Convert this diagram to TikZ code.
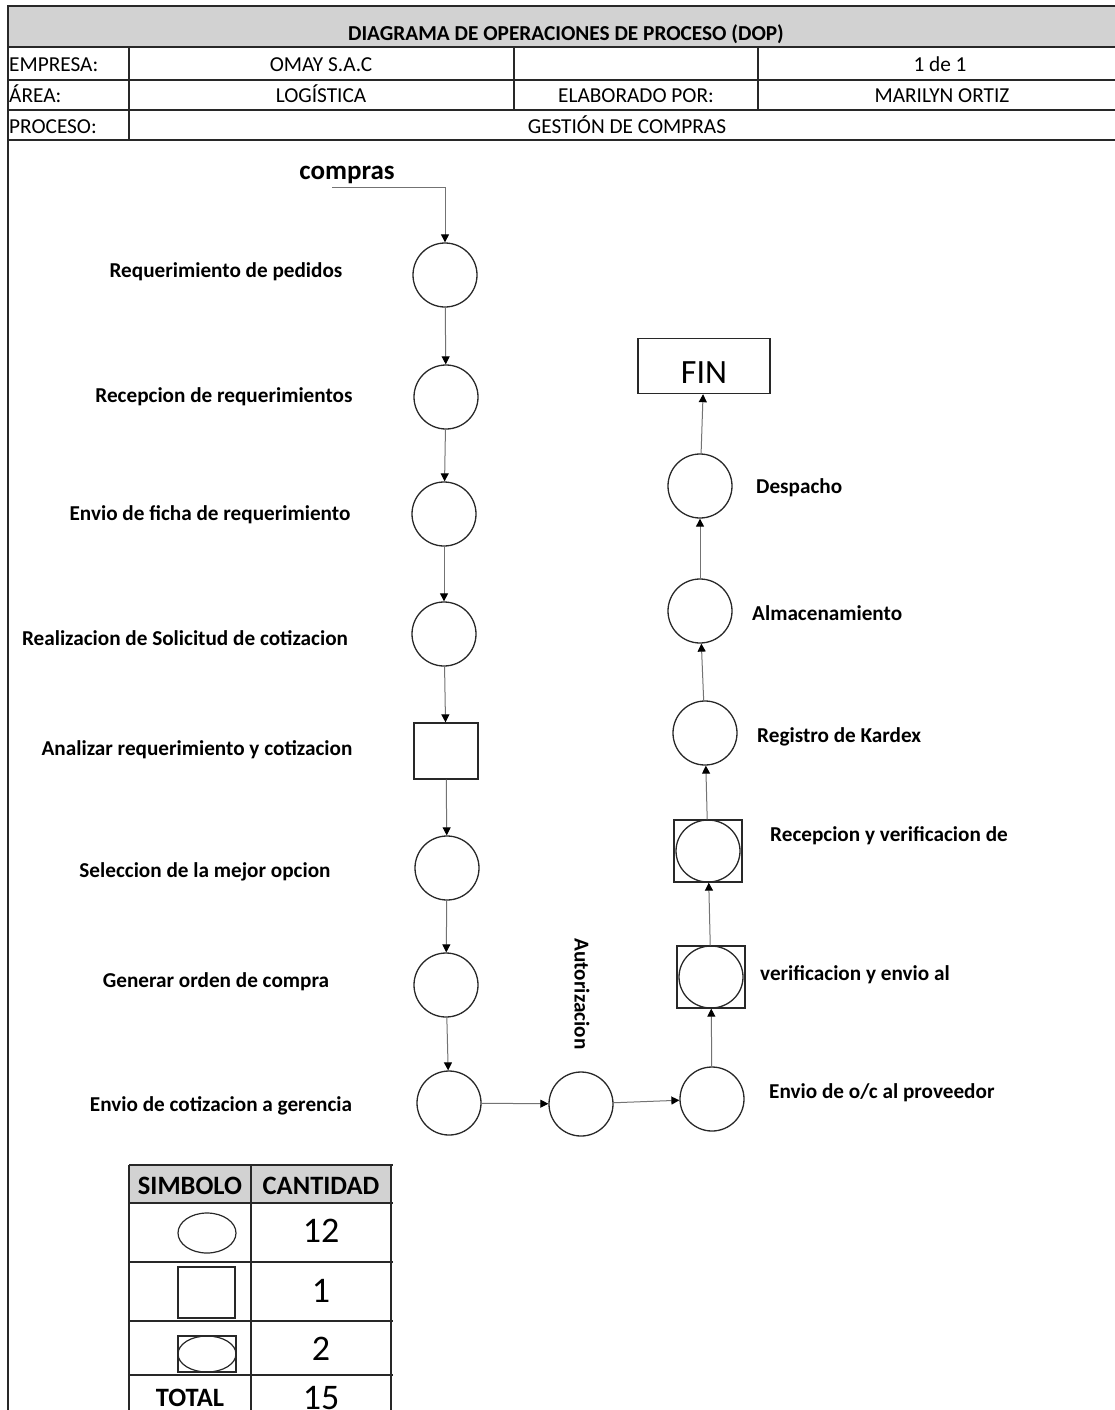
\documentclass[tikz,border=0pt]{standalone}
\usepackage{fontspec}
\setmainfont{Carlito}
\usetikzlibrary{arrows.meta,shapes.geometric}
\definecolor{hgray}{RGB}{210,210,210}
\definecolor{ink}{RGB}{40,40,40}
\begin{document}
\begin{tikzpicture}[x=1pt,y=-1pt]
\tikzset{
 frame/.style={line width=1.4pt, draw=ink},
 hdr/.style={font=\fontsize{21.3}{25}\selectfont, inner sep=0pt, anchor=base},
 hdrb/.style={hdr, font=\bfseries\fontsize{21.3}{25}\selectfont},
 lab/.style={font=\bfseries\fontsize{21.2}{25}\selectfont, inner sep=0pt},
 opn/.style={circle, draw=ink, line width=1.3pt, minimum size=64pt, inner sep=0pt},
 insp/.style={rectangle, draw=ink, line width=1.3pt, minimum width=64pt, minimum height=56pt, inner sep=0pt},
 comb/.style={rectangle, draw=ink, line width=1.3pt, minimum width=68pt, minimum height=62pt, inner sep=0pt},
 combc/.style={ellipse, draw=ink, line width=1.3pt, minimum width=64pt, minimum height=62pt, inner sep=0pt},
 conn/.style={draw=black!55, line width=1pt, -{Triangle[length=8pt,width=8pt,color=black]}},
 tabh/.style={font=\bfseries\fontsize{26.5}{30}\selectfont, inner sep=0pt},
 tabn/.style={font=\fontsize{36}{40}\selectfont, inner sep=0pt, anchor=base},
 sym/.style={draw=ink, line width=1.2pt, inner sep=0pt},
}
\useasboundingbox (0,0) rectangle (1115,1410);
% ---------- header ----------
\fill[hgray] (8,6) rectangle (1115,47);
\draw[frame] (1115,6) -- (8,6) -- (8,1410);
\foreach \y in {47,80,110,140} \draw[frame] (8,\y) -- (1115,\y);
\draw[frame] (129,47) -- (129,140);
\draw[frame] (514,47) -- (514,110);
\draw[frame] (758,47) -- (758,110);
\node[hdrb] (title) at (566,41) {DIAGRAMA DE OPERACIONES DE PROCESO (DOP)};
\node[hdr, anchor=base west] (hemp) at (9,72) {EMPRESA:};
\node[hdr] (hemp2) at (321,72) {OMAY S.A.C};
\node[hdr] (hpag) at (940,72) {1 de 1};
\node[hdr, anchor=base west] (harea) at (9,103) {ÁREA:};
\node[hdr] (harea2) at (321,103) {LOGÍSTICA};
\node[hdr] (helab) at (636,103) {ELABORADO POR:};
\node[hdr] (helab2) at (942,103) {MARILYN ORTIZ};
\node[hdr, anchor=base west] (hproc) at (9,133) {PROCESO:};
\node[hdr] (hproc2) at (627,133) {GESTIÓN DE COMPRAS};
% ---------- flow ----------
\node[font=\bfseries\fontsize{27}{31}\selectfont, inner sep=0pt] (compras) at (347,175) {compras};
\coordinate (cst) at (332,187);
\node[opn] (c1) at (445,275) {};
\node[opn] (c2) at (446,397) {};
\node[opn] (c3) at (444,514) {};
\node[opn] (c4) at (444,634) {};
\node[insp] (sq) at (446,751) {};
\node[opn] (c5) at (447,868) {};
\node[opn] (c6) at (446,985) {};
\node[opn] (c7) at (449,1103) {};
\node[opn] (c8) at (581,1104) {};
\node[opn] (c9) at (712,1099) {};
\node[comb] (v1) at (711,977) {};
\node[combc] (v1c) at (711,977) {};
\node[comb] (v2) at (708,851) {};
\node[combc] (v2c) at (708,851) {};
\node[opn] (r1) at (705,733) {};
\node[opn] (r2) at (700,611) {};
\node[opn] (r3) at (700,486) {};
\node[rectangle, draw=ink, line width=1.4pt, minimum width=132pt, minimum height=55pt, inner sep=0pt,
      text height=34pt, text depth=0pt, font=\fontsize{34}{38}\selectfont] (fin) at (704,366) {FIN};
% labels
\node[lab] (l1) at (226,272) {Requerimiento de pedidos};
\node[lab] (l2) at (224,397) {Recepcion de requerimientos};
\node[lab] (l3) at (210,515) {Envio de ficha de requerimiento};
\node[lab] (l4) at (185,638) {Realizacion de Solicitud de cotizacion};
\node[lab] (l5) at (197,750) {Analizar requerimiento y cotizacion};
\node[lab] (l6) at (205,872) {Seleccion de la mejor opcion};
\node[lab] (l7) at (216,982) {Generar orden de compra};
\node[lab] (l8) at (221,1106) {Envio de cotizacion a gerencia};
\node[lab, rotate=-90] (l9) at (582,994) {Autorizacion};
\node[lab, anchor=west] (l10) at (769,1093) {Envio de o/c al proveedor};
\node[lab, anchor=west] (l11) at (760,975) {verificacion y envio al};
\node[lab, anchor=west] (l12) at (770,836) {Recepcion y verificacion de};
\node[lab, anchor=west] (l13) at (757,737) {Registro de Kardex};
\node[lab, anchor=west] (l14) at (752,613) {Almacenamiento};
\node[lab, anchor=west] (l15) at (756,488) {Despacho};
% connectors
\draw[conn] (cst) -| (c1);
\draw[conn] (c1) -- (c2);
\draw[conn] (c2) -- (c3);
\draw[conn] (c3) -- (c4);
\draw[conn] (c4) -- (sq);
\draw[conn] (sq) -- (c5);
\draw[conn] (c5) -- (c6);
\draw[conn] (c6) -- (c7);
\draw[conn] (c7) -- (c8);
\draw[conn] (c8) -- (c9);
\draw[conn] (c9) -- (v1);
\draw[conn] (v1) -- (v2);
\draw[conn] (v2) -- (r1);
\draw[conn] (r1) -- (r2);
\draw[conn] (r2) -- (r3);
\draw[conn] (r3) -- (fin);
% ---------- summary table ----------
\fill[hgray] (129,1165) rectangle (391,1203);
\foreach \x in {129,251,391} \draw[frame] (\x,1165) -- (\x,1412);
\foreach \y in {1165,1203,1262,1321,1375} \draw[frame] (129,\y) -- (393,\y);
\node[tabh] (th1) at (190,1186) {SIMBOLO};
\node[tabh] (th2) at (321,1186) {CANTIDAD};
\node[sym, ellipse, minimum width=58pt, minimum height=40pt] (s1) at (207,1233) {};
\node[sym, rectangle, minimum width=57pt, minimum height=51pt] (s2) at (206.5,1292.5) {};
\node[sym, rectangle, minimum width=58pt, minimum height=36pt] (s3) at (207,1354) {};
\node[sym, ellipse, minimum width=58pt, minimum height=36pt] (s3e) at (207,1354) {};
\node[tabn] (n1) at (321,1242) {12};
\node[tabn] (n2) at (321,1302) {1};
\node[tabn] (n3) at (321,1360) {2};
\node[tabh, anchor=base] (tot) at (190,1406) {TOTAL};
\node[tabn] (n4) at (321,1409) {15};
\end{tikzpicture}
\end{document}
